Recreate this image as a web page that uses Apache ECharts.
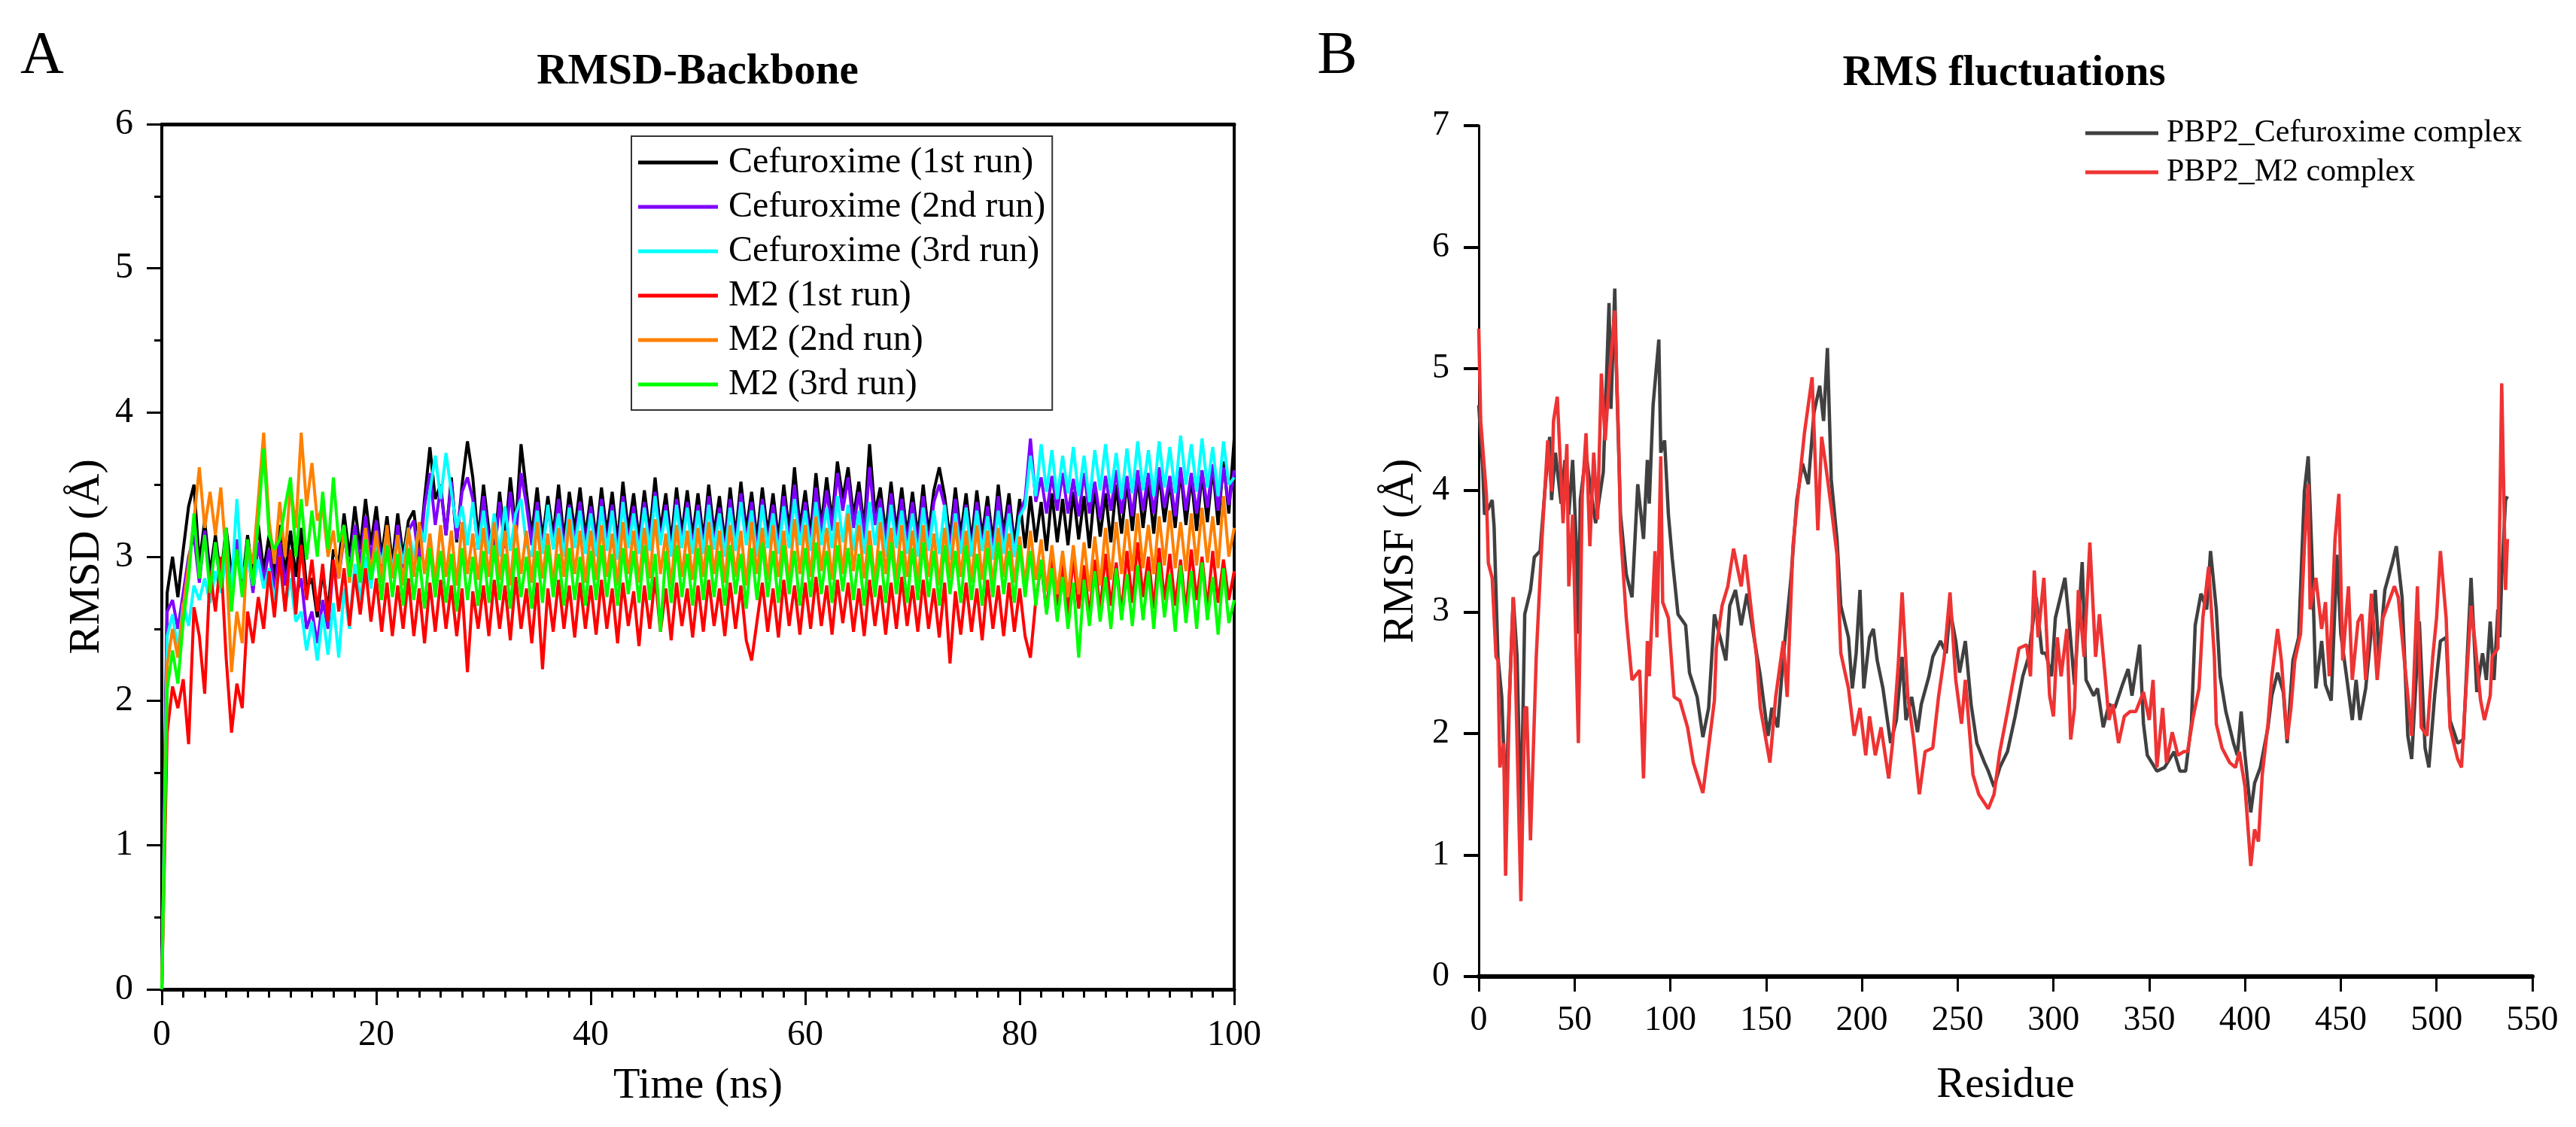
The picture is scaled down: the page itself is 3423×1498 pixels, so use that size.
<!DOCTYPE html>
<html lang="en">
<head>
  <meta charset="UTF-8">
  <title>RMSD and RMSF</title>
  <script src="https://cdn.jsdelivr.net/npm/echarts@6.0.0/dist/echarts.min.js"></script>
  <style>
    html, body { margin: 0; padding: 0; background: #fff; }
    #chart { width: 3423px; height: 1498px; }
  </style>
</head>
<body>
  <div id="chart"></div>
<script>
  // RMSD backbone, one value every 0.5 ns (0 .. 100 ns)
  const timeStep = 0.5;
  const cefRun1 = [
    0, 2.75, 3.00, 2.72, 3.05, 3.35, 3.50, 2.95, 3.25, 2.88, 3.15, 2.85, 3.20, 2.88, 3.10, 2.80, 3.15, 2.86, 3.22, 2.90,
    3.15, 2.85, 3.22, 2.88, 3.18, 2.86, 3.20, 2.78, 2.85, 2.58, 2.90, 2.62, 3.05, 2.95, 3.30, 3.00, 3.35, 3.05, 3.40, 3.08,
    3.35, 3.00, 3.28, 2.95, 3.30, 3.00, 3.25, 3.32, 3.00, 3.40, 3.76, 3.40, 3.50, 3.15, 3.55, 3.10, 3.50, 3.80, 3.55, 3.12,
    3.50, 3.18, 3.05, 3.45, 3.12, 3.55, 3.20, 3.78, 3.45, 3.15, 3.48, 3.12, 3.42, 3.15, 3.50, 3.12, 3.45, 3.18, 3.48, 3.14,
    3.42, 3.12, 3.48, 3.16, 3.45, 3.10, 3.52, 3.18, 3.44, 3.12, 3.46, 3.16, 3.55, 3.18, 3.44, 3.10, 3.48, 3.16, 3.46, 3.14,
    3.44, 3.12, 3.50, 3.16, 3.42, 3.10, 3.48, 3.14, 3.52, 3.18, 3.45, 3.12, 3.48, 3.16, 3.44, 3.12, 3.50, 3.18, 3.62, 3.20,
    3.46, 3.15, 3.58, 3.22, 3.55, 3.25, 3.66, 3.40, 3.62, 3.28, 3.52, 3.20, 3.78, 3.30, 3.48, 3.16, 3.52, 3.18, 3.48, 3.15,
    3.45, 3.14, 3.50, 3.16, 3.46, 3.62, 3.42, 3.12, 3.48, 3.15, 3.44, 3.10, 3.46, 3.14, 3.42, 3.10, 3.50, 3.16, 3.44, 3.08,
    3.40, 3.06, 3.42, 3.10, 3.38, 3.04, 3.44, 3.10, 3.40, 3.08, 3.45, 3.12, 3.42, 3.06, 3.48, 3.14, 3.44, 3.10, 3.50, 3.16,
    3.52, 3.18, 3.56, 3.20, 3.52, 3.16, 3.58, 3.24, 3.52, 3.20, 3.60, 3.22, 3.55, 3.18, 3.58, 3.24, 3.62, 3.22, 3.66, 3.30,
    3.82
  ];
  const cefRun2 = [
    0, 2.62, 2.70, 2.50, 2.75, 3.00, 3.15, 2.82, 3.18, 2.80, 3.10, 2.78, 3.08, 2.82, 3.12, 2.78, 3.05, 2.75, 3.10, 2.82,
    3.05, 2.76, 3.10, 2.80, 3.02, 2.72, 2.85, 2.50, 2.62, 2.40, 2.70, 2.50, 2.95, 2.85, 3.15, 2.90, 3.22, 2.95, 3.28, 2.98,
    3.25, 2.92, 3.20, 2.88, 3.22, 2.92, 3.18, 3.25, 2.95, 3.35, 3.58, 3.22, 3.48, 3.15, 3.52, 3.12, 3.45, 3.55, 3.40, 3.05,
    3.42, 3.10, 3.00, 3.38, 3.06, 3.45, 3.12, 3.58, 3.36, 3.08, 3.38, 3.05, 3.35, 3.08, 3.40, 3.05, 3.36, 3.10, 3.38, 3.06,
    3.35, 3.05, 3.40, 3.08, 3.36, 3.02, 3.42, 3.10, 3.35, 3.05, 3.38, 3.08, 3.45, 3.10, 3.36, 3.02, 3.40, 3.08, 3.38, 3.06,
    3.36, 3.05, 3.42, 3.08, 3.34, 3.02, 3.40, 3.06, 3.44, 3.10, 3.38, 3.04, 3.40, 3.08, 3.36, 3.05, 3.42, 3.10, 3.50, 3.12,
    3.38, 3.08, 3.48, 3.15, 3.46, 3.18, 3.58, 3.32, 3.55, 3.20, 3.45, 3.12, 3.62, 3.22, 3.40, 3.08, 3.44, 3.10, 3.40, 3.08,
    3.38, 3.06, 3.42, 3.08, 3.38, 3.50, 3.35, 3.05, 3.40, 3.08, 3.36, 3.02, 3.38, 3.06, 3.35, 3.02, 3.42, 3.08, 3.36, 3.00,
    3.30, 3.40, 3.82, 3.38, 3.55, 3.30, 3.56, 3.32, 3.58, 3.30, 3.54, 3.28, 3.58, 3.30, 3.52, 3.26, 3.56, 3.32, 3.60, 3.30,
    3.56, 3.28, 3.60, 3.32, 3.58, 3.30, 3.62, 3.34, 3.56, 3.28, 3.62, 3.32, 3.58, 3.30, 3.60, 3.34, 3.64, 3.32, 3.62, 3.36,
    3.60
  ];
  const cefRun3 = [
    0, 2.45, 2.60, 2.35, 2.68, 2.52, 2.80, 2.70, 2.85, 2.68, 2.90, 2.75, 3.00, 2.78, 3.40, 2.85, 3.00, 2.80, 2.98, 2.78,
    2.92, 2.70, 2.95, 2.65, 2.85, 2.55, 2.62, 2.35, 2.55, 2.28, 2.60, 2.32, 2.68, 2.30, 2.78, 2.50, 2.95, 2.70, 3.00, 2.78,
    3.10, 2.95, 3.18, 2.90, 3.15, 2.95, 3.20, 2.98, 3.22, 3.10, 3.45, 3.70, 3.40, 3.72, 3.45, 3.20, 3.35, 3.08, 3.38, 3.05,
    3.32, 3.02, 3.30, 3.00, 3.35, 3.04, 3.30, 3.40, 3.08, 3.00, 3.32, 3.02, 3.36, 3.05, 3.30, 3.00, 3.34, 3.06, 3.32, 3.02,
    3.30, 3.00, 3.35, 3.04, 3.32, 2.98, 3.38, 3.06, 3.30, 3.02, 3.34, 3.04, 3.42, 3.08, 3.32, 3.00, 3.36, 3.06, 3.34, 3.02,
    3.32, 3.02, 3.36, 3.05, 3.30, 3.00, 3.34, 3.04, 3.38, 3.08, 3.32, 3.00, 3.36, 3.06, 3.30, 3.02, 3.35, 3.06, 3.40, 3.08,
    3.32, 3.04, 3.38, 3.08, 3.34, 3.06, 3.42, 3.10, 3.36, 3.04, 3.32, 3.02, 3.38, 3.08, 3.34, 3.00, 3.36, 3.06, 3.32, 3.02,
    3.30, 3.00, 3.34, 3.04, 3.32, 3.02, 3.36, 2.98, 3.30, 3.02, 3.34, 3.00, 3.32, 3.04, 3.28, 2.98, 3.32, 3.02, 3.30, 3.00,
    3.28, 3.35, 3.70, 3.42, 3.78, 3.45, 3.74, 3.40, 3.70, 3.44, 3.76, 3.42, 3.70, 3.38, 3.74, 3.46, 3.78, 3.44, 3.72, 3.40,
    3.75, 3.44, 3.80, 3.46, 3.74, 3.42, 3.80, 3.48, 3.76, 3.44, 3.84, 3.50, 3.78, 3.45, 3.82, 3.48, 3.76, 3.42, 3.80, 3.50,
    3.55
  ];
  const m2Run1 = [
    0, 1.78, 2.10, 1.95, 2.15, 1.70, 2.65, 2.45, 2.05, 2.90, 2.62, 3.00, 2.30, 1.78, 2.12, 1.95, 2.62, 2.40, 2.72, 2.50,
    2.90, 2.58, 3.00, 2.62, 3.05, 2.60, 3.08, 2.70, 2.98, 2.62, 2.95, 2.55, 2.98, 2.62, 2.92, 2.52, 2.88, 2.60, 2.92, 2.55,
    2.85, 2.48, 2.82, 2.45, 2.80, 2.50, 2.85, 2.45, 2.78, 2.40, 2.82, 2.48, 2.84, 2.50, 2.80, 2.45, 2.78, 2.20, 2.76, 2.50,
    2.80, 2.45, 2.84, 2.50, 2.80, 2.42, 2.86, 2.50, 2.78, 2.40, 2.82, 2.22, 2.78, 2.48, 2.84, 2.50, 2.80, 2.44, 2.82, 2.50,
    2.80, 2.46, 2.84, 2.50, 2.78, 2.40, 2.82, 2.52, 2.76, 2.38, 2.80, 2.50, 2.86, 2.48, 2.78, 2.42, 2.82, 2.52, 2.78, 2.44,
    2.80, 2.48, 2.84, 2.52, 2.78, 2.45, 2.82, 2.50, 2.80, 2.42, 2.28, 2.55, 2.82, 2.48, 2.78, 2.44, 2.84, 2.52, 2.80, 2.46,
    2.82, 2.50, 2.86, 2.52, 2.80, 2.46, 2.84, 2.54, 2.82, 2.48, 2.78, 2.45, 2.84, 2.52, 2.80, 2.46, 2.82, 2.50, 2.86, 2.52,
    2.80, 2.48, 2.84, 2.50, 2.78, 2.44, 2.82, 2.26, 2.76, 2.46, 2.82, 2.48, 2.78, 2.42, 2.84, 2.50, 2.80, 2.45, 2.82, 2.48,
    2.78, 2.45, 2.30, 2.70, 2.95, 2.62, 3.00, 2.66, 2.95, 2.60, 3.00, 2.64, 2.94, 2.58, 2.98, 2.62, 3.02, 2.66, 2.96, 2.60,
    3.04, 2.68, 3.10, 2.72, 3.00, 2.64, 3.06, 2.70, 3.02, 2.66, 2.98, 2.62, 3.05, 2.70, 3.00, 2.64, 3.04, 2.68, 2.98, 2.70,
    2.90
  ];
  const m2Run2 = [
    0, 2.25, 2.50, 2.30, 2.65, 2.95, 3.25, 3.62, 3.20, 3.45, 3.15, 3.48, 3.00, 2.20, 2.62, 2.40, 3.10, 2.95, 3.40, 3.86,
    3.25, 2.95, 3.38, 3.00, 3.50, 3.20, 3.86, 3.35, 3.65, 3.25, 3.35, 3.00, 3.18, 2.85, 3.20, 2.82, 3.15, 2.85, 3.20, 2.88,
    3.18, 2.82, 3.22, 2.85, 3.15, 2.80, 3.20, 2.86, 3.24, 2.88, 3.16, 2.82, 3.22, 2.86, 3.18, 2.80, 3.24, 2.88, 3.16, 2.84,
    3.20, 2.86, 3.24, 2.84, 3.18, 2.80, 3.22, 2.88, 3.18, 2.82, 3.24, 2.85, 3.16, 2.80, 3.20, 2.86, 3.26, 2.88, 3.18, 2.82,
    3.18, 2.84, 3.22, 2.86, 3.16, 2.80, 3.24, 2.88, 3.18, 2.82, 3.20, 2.85, 3.26, 2.88, 3.16, 2.80, 3.22, 2.86, 3.18, 2.84,
    3.20, 2.86, 3.24, 2.88, 3.18, 2.82, 3.22, 2.86, 3.18, 2.80, 3.24, 2.88, 3.20, 2.84, 3.22, 2.86, 3.18, 2.82, 3.26, 2.88,
    3.22, 2.86, 3.28, 2.90, 3.20, 2.84, 3.24, 2.88, 3.30, 2.90, 3.22, 2.85, 3.18, 2.82, 3.24, 2.88, 3.20, 2.84, 3.22, 2.86,
    3.18, 2.82, 3.22, 2.86, 3.16, 2.80, 3.20, 2.85, 3.24, 2.86, 3.18, 2.82, 3.22, 2.84, 3.18, 2.80, 3.20, 2.86, 3.16, 2.82,
    3.14, 2.80, 3.18, 2.84, 3.12, 2.76, 3.08, 2.74, 3.04, 2.72, 3.08, 2.74, 3.10, 2.76, 3.14, 2.80, 3.20, 2.84, 3.24, 2.88,
    3.26, 2.90, 3.30, 2.92, 3.22, 2.88, 3.28, 2.94, 3.32, 2.92, 3.24, 2.90, 3.30, 2.94, 3.34, 2.96, 3.28, 2.92, 3.42, 3.00,
    3.20
  ];
  const m2Run3 = [
    0, 2.08, 2.35, 2.12, 2.55, 2.85, 3.30, 2.85, 3.15, 2.75, 3.10, 2.78, 3.20, 2.62, 3.05, 2.72, 3.12, 2.80, 3.25, 3.75,
    3.15, 3.05, 3.12, 3.35, 3.55, 3.00, 3.40, 2.98, 3.32, 3.00, 3.45, 3.05, 3.55, 3.10, 3.22, 2.86, 3.15, 2.82, 3.12, 2.84,
    3.04, 2.70, 3.08, 2.72, 3.02, 2.66, 3.06, 2.70, 3.00, 2.64, 3.06, 2.72, 3.04, 2.68, 3.02, 2.62, 3.06, 2.70, 3.00, 2.66,
    3.04, 2.68, 3.08, 2.70, 3.02, 2.64, 3.06, 2.72, 3.00, 2.64, 3.04, 2.68, 3.08, 2.72, 3.02, 2.66, 3.06, 2.70, 3.00, 2.66,
    3.04, 2.70, 3.08, 2.72, 3.02, 2.66, 3.06, 2.74, 3.04, 2.68, 3.08, 2.70, 3.02, 2.48, 3.04, 2.68, 3.08, 2.72, 3.02, 2.66,
    3.06, 2.70, 3.08, 2.72, 3.04, 2.66, 3.08, 2.74, 3.02, 2.64, 3.06, 2.70, 3.10, 2.72, 3.04, 2.68, 3.08, 2.74, 3.04, 2.66,
    3.06, 2.72, 3.10, 2.74, 3.04, 2.68, 3.08, 2.76, 3.06, 2.70, 3.02, 2.66, 3.08, 2.72, 3.04, 2.68, 3.10, 2.74, 3.04, 2.68,
    3.06, 2.70, 3.10, 2.72, 3.04, 2.66, 3.08, 2.74, 3.04, 2.68, 3.08, 2.70, 3.02, 2.66, 3.06, 2.72, 3.10, 2.74, 3.04, 2.68,
    3.08, 2.72, 3.04, 2.66, 2.98, 2.60, 2.92, 2.55, 2.86, 2.50, 2.82, 2.30, 2.84, 2.52, 2.90, 2.55, 2.86, 2.50, 2.92, 2.56,
    2.88, 2.52, 2.94, 2.56, 2.90, 2.50, 2.96, 2.58, 2.88, 2.48, 2.94, 2.54, 2.90, 2.50, 2.96, 2.56, 2.86, 2.46, 2.92, 2.54,
    2.70
  ];
  const rmsdNames = ['Cefuroxime (1st run)', 'Cefuroxime (2nd run)', 'Cefuroxime (3rd run)', 'M2 (1st run)', 'M2 (2nd run)', 'M2 (3rd run)'];
  const rmsdColors = ['#000000', '#8000ff', '#00ffff', '#ff0000', '#ff8000', '#00ff00'];

  // RMSF per residue, [residue, value]
  const cefRmsf = [[0,4.70],[2,4.20],[3,3.80],[5,3.85],[7,3.92],[8,3.70],[10,2.63],[12,2.30],[14,1.43],[16,2.30],[18,3.12],[20,2.63],[22,1.23],[24,2.98],[27,3.18],[29,3.45],[32,3.50],[35,4.09],[37,4.44],[38,3.92],[40,4.31],[43,3.89],[45,4.25],[47,3.80],[49,4.25],[51,3.54],[52,2.82],[53,3.92],[56,4.31],[58,4.05],[61,3.73],[65,4.15],[68,5.54],[69,4.67],[71,5.66],[72,4.90],[74,3.80],[77,3.31],[80,3.12],[83,4.05],[86,3.60],[88,4.25],[89,3.89],[91,4.70],[94,5.24],[95,4.31],[97,4.41],[99,3.80],[101,3.44],[104,2.98],[108,2.89],[110,2.50],[114,2.30],[117,1.97],[120,2.21],[123,2.98],[126,2.79],[129,2.60],[131,3.05],[134,3.18],[137,2.89],[140,3.15],[144,2.76],[147,2.47],[151,1.98],[153,2.21],[156,2.05],[159,2.63],[163,3.28],[166,3.92],[169,4.22],[172,4.05],[175,4.64],[178,4.86],[180,4.57],[182,5.17],[184,4.09],[187,3.60],[189,3.05],[193,2.79],[195,2.37],[197,2.66],[199,3.18],[201,2.37],[204,2.79],[206,2.86],[208,2.60],[211,2.37],[215,1.92],[218,2.11],[221,2.63],[223,2.11],[226,2.30],[229,2.01],[231,2.24],[235,2.47],[237,2.63],[241,2.76],[244,2.66],[246,3.02],[249,2.76],[251,2.50],[254,2.76],[257,2.24],[260,1.92],[264,1.76],[266,1.69],[269,1.56],[272,1.72],[276,1.85],[280,2.14],[284,2.47],[287,2.63],[291,3.12],[294,2.66],[296,2.66],[299,2.47],[301,2.95],[303,3.08],[306,3.28],[308,2.95],[311,2.40],[315,3.41],[317,2.44],[321,2.31],[323,2.37],[326,2.05],[329,2.24],[332,2.21],[336,2.40],[339,2.53],[341,2.31],[345,2.73],[347,2.08],[349,1.82],[354,1.69],[358,1.72],[363,1.85],[366,1.69],[369,1.69],[372,2.08],[374,2.89],[377,3.15],[380,3.02],[382,3.50],[385,3.02],[387,2.47],[390,2.18],[394,1.92],[396,1.82],[398,2.18],[400,1.82],[403,1.35],[405,1.59],[408,1.72],[412,2.05],[414,2.31],[417,2.50],[420,2.34],[422,1.92],[425,2.60],[428,2.79],[431,3.99],[433,4.28],[435,3.44],[437,2.37],[440,2.76],[442,2.40],[445,2.27],[448,3.47],[450,2.82],[453,2.47],[456,2.11],[458,2.44],[460,2.11],[463,2.37],[468,3.18],[470,2.63],[473,3.18],[477,3.41],[479,3.54],[482,3.12],[485,1.98],[487,1.79],[491,2.92],[494,1.88],[496,1.72],[499,2.31],[502,2.76],[505,2.79],[507,2.11],[511,1.92],[514,1.95],[516,2.63],[518,3.28],[521,2.34],[524,2.66],[526,2.44],[528,2.92],[530,2.44],[532,3.02],[533,2.79],[534,3.28],[536,3.92],[537,3.95]];
  const m2Rmsf = [[0,5.33],[1,4.57],[4,3.96],[5,3.40],[7,3.28],[9,2.63],[10,2.60],[11,1.72],[13,1.92],[14,0.83],[16,2.30],[18,3.12],[19,2.58],[22,0.62],[24,2.20],[25,2.22],[27,1.12],[30,2.63],[33,3.60],[36,4.41],[38,3.99],[39,4.57],[41,4.77],[44,3.73],[46,4.38],[47,3.21],[49,3.80],[52,1.92],[54,3.96],[56,4.47],[58,3.54],[60,4.31],[62,3.76],[64,4.96],[66,4.41],[68,4.90],[71,5.48],[73,4.41],[74,3.67],[77,2.95],[80,2.44],[84,2.52],[86,1.63],[88,2.76],[89,2.47],[92,3.50],[93,2.79],[95,4.28],[96,3.08],[99,2.95],[102,2.30],[105,2.27],[109,2.05],[112,1.76],[117,1.51],[119,1.76],[123,2.27],[124,2.70],[127,3.05],[130,3.21],[133,3.52],[137,3.21],[139,3.47],[142,3.05],[145,2.63],[147,2.21],[152,1.76],[155,2.30],[159,2.76],[161,2.30],[164,3.54],[166,3.86],[170,4.47],[174,4.93],[177,3.67],[179,4.44],[181,4.22],[184,3.86],[187,3.47],[189,2.66],[193,2.37],[196,1.98],[199,2.21],[202,1.82],[204,2.14],[207,1.82],[210,2.05],[214,1.63],[216,1.92],[219,2.57],[221,3.16],[224,2.30],[227,1.95],[230,1.50],[233,1.85],[237,1.88],[240,2.30],[243,2.63],[246,3.16],[249,2.44],[252,2.08],[254,2.44],[258,1.66],[261,1.50],[266,1.38],[269,1.50],[272,1.85],[276,2.18],[279,2.44],[282,2.70],[286,2.73],[288,2.47],[290,3.34],[292,2.79],[295,3.28],[298,2.31],[300,2.14],[302,2.79],[304,2.47],[307,2.86],[309,1.95],[311,2.21],[313,3.18],[316,2.63],[319,3.57],[322,2.63],[324,2.98],[327,2.47],[329,2.11],[331,2.24],[334,1.92],[337,2.14],[340,2.18],[343,2.18],[347,2.34],[350,2.11],[352,2.44],[354,1.72],[357,2.21],[359,1.76],[362,2.01],[365,1.82],[368,1.85],[370,1.85],[373,2.14],[376,2.37],[378,2.95],[381,3.37],[384,2.63],[385,2.08],[388,1.88],[392,1.76],[395,1.72],[397,1.85],[400,1.56],[403,0.91],[405,1.21],[407,1.11],[409,1.66],[412,2.08],[414,2.47],[417,2.86],[419,2.60],[422,1.95],[424,2.21],[426,2.60],[429,2.82],[431,3.54],[433,4.05],[434,3.02],[437,3.28],[440,2.86],[442,3.08],[444,2.47],[447,3.60],[449,3.97],[451,2.60],[454,3.21],[456,2.44],[459,2.92],[461,2.98],[463,2.44],[466,3.15],[469,2.44],[472,2.95],[475,3.08],[478,3.21],[480,3.12],[483,2.63],[487,1.98],[490,3.21],[492,2.05],[495,1.98],[498,2.63],[500,2.95],[502,3.50],[505,2.95],[507,2.05],[511,1.79],[513,1.72],[515,2.27],[518,3.05],[520,2.76],[523,2.27],[525,2.11],[528,2.31],[529,2.63],[532,2.70],[534,4.88],[535,4.05],[536,3.18],[537,3.60]];
  const rmsfNames = ['PBP2_Cefuroxime complex', 'PBP2_M2 complex'];
  const rmsfColors = ['#404040', '#ee3333'];

  const serif = '"Liberation Serif", "Times New Roman", serif';
  const toPairs = (vals) => vals.map((v, i) => [i * timeStep, v]);

  const axisText = (size) => ({ fontFamily: serif, fontSize: size, color: '#000' });

  let myChart = echarts.init(document.getElementById('chart'), null, { renderer: 'canvas' });

  const rmsdSeries = [cefRun1, cefRun2, cefRun3, m2Run1, m2Run2, m2Run3].map((vals, i) => ({
    name: rmsdNames[i],
    type: 'line',
    xAxisIndex: 0,
    yAxisIndex: 0,
    showSymbol: false,
    lineStyle: { color: rmsdColors[i], width: 4 },
    itemStyle: { color: rmsdColors[i] },
    data: toPairs(vals),
  }));

  const rmsfSeries = [cefRmsf, m2Rmsf].map((pts, i) => ({
    name: rmsfNames[i],
    type: 'line',
    xAxisIndex: 2,
    yAxisIndex: 2,
    showSymbol: false,
    lineStyle: { color: rmsfColors[i], width: 4.5 },
    itemStyle: { color: rmsfColors[i] },
    data: pts,
  }));

  myChart.setOption({
    animation: false,
    backgroundColor: '#fff',
    textStyle: { fontFamily: serif, color: '#000' },
    graphic: [
      { type: 'text', x: 56, y: 76, style: { text: 'A', font: '80px ' + serif, fill: '#000', textAlign: 'center', textVerticalAlign: 'middle' } },
      { type: 'text', x: 1777, y: 76, style: { text: 'B', font: '80px ' + serif, fill: '#000', textAlign: 'center', textVerticalAlign: 'middle' } },
      { type: 'text', x: 927, y: 96, style: { text: 'RMSD-Backbone', font: 'bold 57px ' + serif, fill: '#000', textAlign: 'center', textVerticalAlign: 'middle' } },
      { type: 'text', x: 2663, y: 98, style: { text: 'RMS fluctuations', font: 'bold 57px ' + serif, fill: '#000', textAlign: 'center', textVerticalAlign: 'middle' } },
    ],
    legend: [
      {
        data: rmsdNames,
        orient: 'vertical',
        left: 839,
        top: 181,
        icon: 'rect',
        itemWidth: 106,
        itemHeight: 5,
        itemGap: 11,
        padding: [11, 9, 10, 9],
        borderColor: '#333',
        borderWidth: 2,
        backgroundColor: '#fff',
        selectedMode: false,
        textStyle: { fontFamily: serif, fontSize: 48, lineHeight: 48, color: '#000', padding: [0, 0, 0, 9] },
      },
      {
        data: rmsfNames,
        orient: 'vertical',
        left: 2771,
        top: 156,
        icon: 'rect',
        itemWidth: 97,
        itemHeight: 5,
        itemGap: 10,
        padding: 0,
        selectedMode: false,
        textStyle: { fontFamily: serif, fontSize: 42, lineHeight: 42, color: '#000', padding: [0, 0, 0, 6] },
      },
    ],
    grid: [
      { left: 215, top: 165, width: 1425, height: 1150 },
      { left: 1965, top: 167, width: 1400, height: 1131 },
    ],
    xAxis: [
      {
        gridIndex: 0,
        type: 'value',
        min: 0,
        max: 100,
        interval: 20,
        position: 'bottom',
        name: 'Time (ns)',
        nameLocation: 'middle',
        nameGap: 100,
        nameTextStyle: axisText(58),
        axisLine: { onZero: false, lineStyle: { color: '#000', width: 5 } },
        axisTick: { length: 21, lineStyle: { color: '#000', width: 3 } },
        minorTick: { show: true, splitNumber: 10, length: 11, lineStyle: { color: '#000', width: 3 } },
        splitLine: { show: false },
        axisLabel: Object.assign({ margin: 37 }, axisText(48)),
      },
      {
        gridIndex: 0,
        type: 'value',
        min: 0,
        max: 100,
        position: 'top',
        axisLine: { onZero: false, lineStyle: { color: '#000', width: 5 } },
        axisTick: { show: false },
        axisLabel: { show: false },
        splitLine: { show: false },
      },
      {
        gridIndex: 1,
        type: 'value',
        min: 0,
        max: 550,
        interval: 50,
        name: 'Residue',
        nameLocation: 'middle',
        nameGap: 117,
        nameTextStyle: axisText(57),
        axisLine: { onZero: false, lineStyle: { color: '#000', width: 6 } },
        axisTick: { length: 20, lineStyle: { color: '#000', width: 3 } },
        splitLine: { show: false },
        axisLabel: Object.assign({ margin: 36 }, axisText(46)),
      },
    ],
    yAxis: [
      {
        gridIndex: 0,
        type: 'value',
        min: 0,
        max: 6,
        interval: 1,
        name: 'RMSD (Å)',
        nameLocation: 'middle',
        nameGap: 70,
        nameTextStyle: axisText(58),
        axisLine: { show: true, onZero: false, lineStyle: { color: '#000', width: 4 } },
        axisTick: { show: true, length: 20, lineStyle: { color: '#000', width: 3 } },
        minorTick: { show: true, splitNumber: 2, length: 10, lineStyle: { color: '#000', width: 3 } },
        splitLine: { show: false },
        axisLabel: Object.assign({ margin: 38 }, axisText(48)),
      },
      {
        gridIndex: 0,
        type: 'value',
        min: 0,
        max: 6,
        position: 'right',
        axisLine: { show: true, onZero: false, lineStyle: { color: '#000', width: 4 } },
        axisTick: { show: false },
        axisLabel: { show: false },
        splitLine: { show: false },
      },
      {
        gridIndex: 1,
        type: 'value',
        min: 0,
        max: 7,
        interval: 1,
        name: 'RMSF (Å)',
        nameLocation: 'middle',
        nameGap: 74,
        nameTextStyle: axisText(57),
        axisLine: { show: true, onZero: false, lineStyle: { color: '#000', width: 3 } },
        axisTick: { show: true, length: 20, lineStyle: { color: '#000', width: 4 } },
        splitLine: { show: false },
        axisLabel: Object.assign({ margin: 39 }, axisText(46)),
      },
    ],
    series: rmsdSeries.concat(rmsfSeries),
  });
</script>
</body>
</html>
